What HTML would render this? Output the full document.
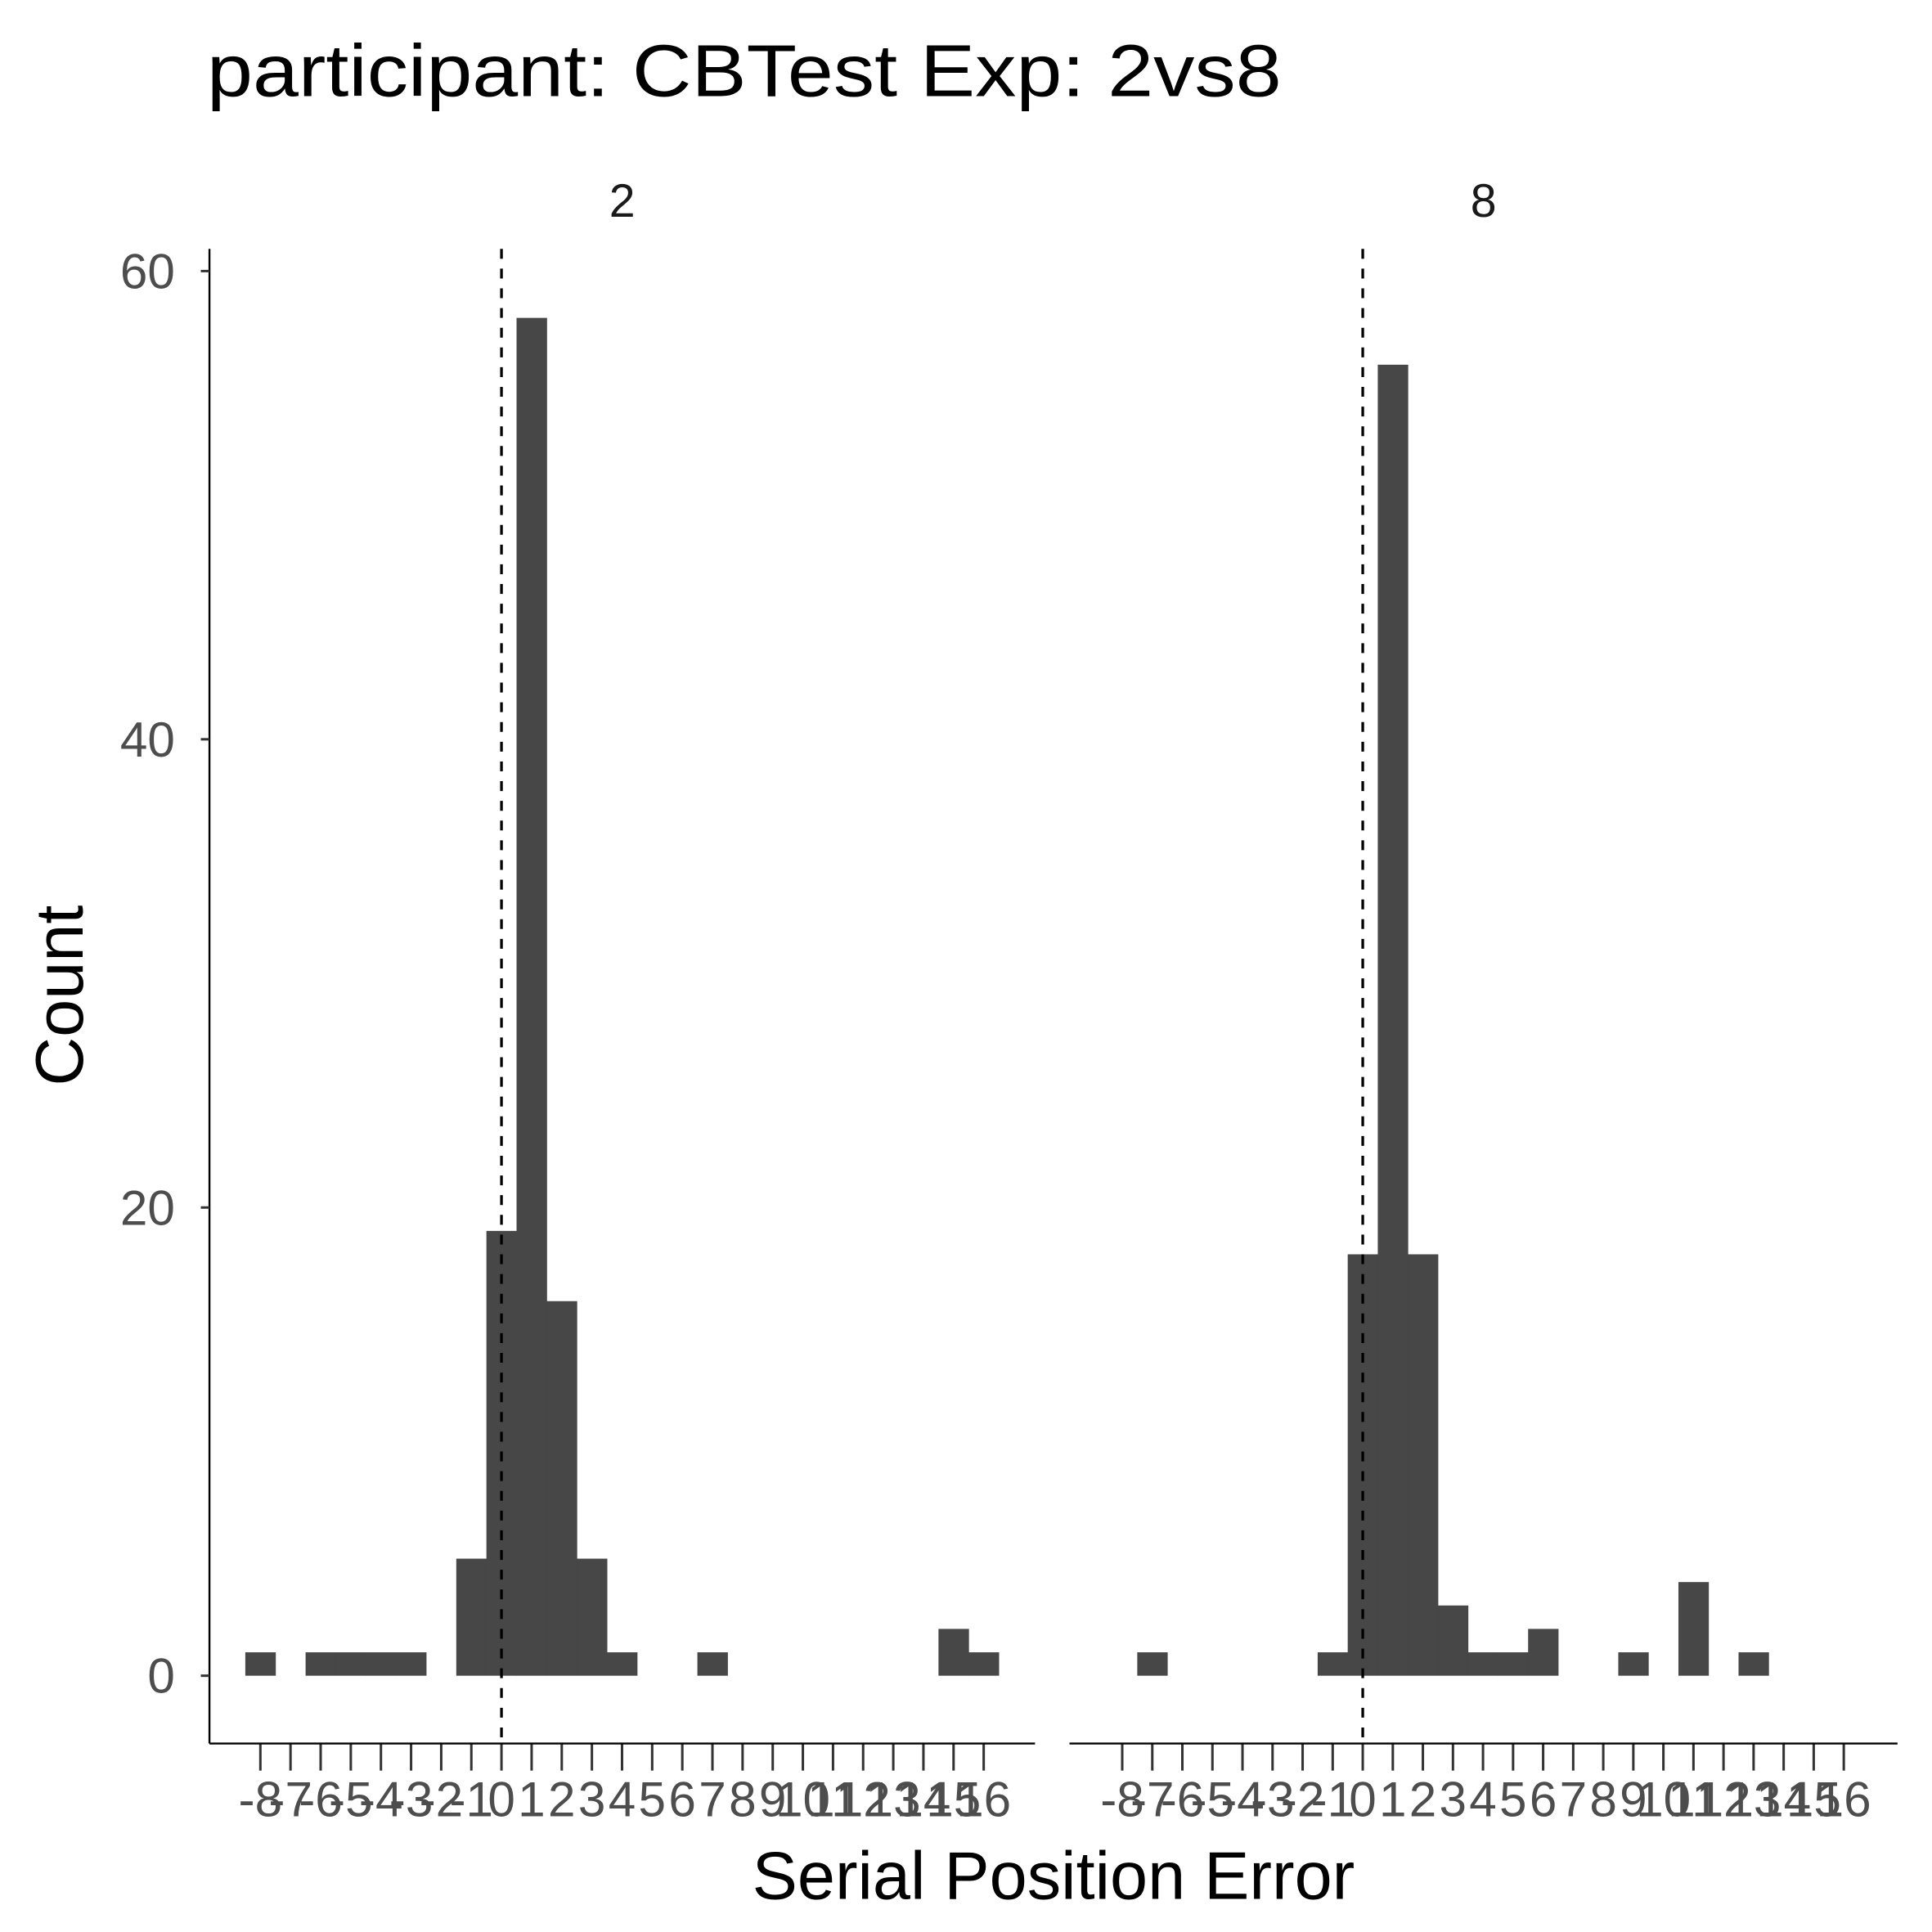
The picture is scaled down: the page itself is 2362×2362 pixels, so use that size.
<!DOCTYPE html>
<html><head><meta charset="utf-8"><style>html,body{margin:0;padding:0;background:#fff}svg{display:block}</style></head>
<body>
<svg id="chart" width="2362" height="2362" viewBox="0 0 1568 1568" xmlns="http://www.w3.org/2000/svg" font-family="Liberation Sans, sans-serif">
<rect width="1568" height="1568" fill="#fff"/>
<text x="168" y="78" font-size="60" textLength="872" lengthAdjust="spacingAndGlyphs" fill="#000">participant: CBTest Exp: 2vs8</text>
<text transform="translate(67,808) rotate(-90)" text-anchor="middle" font-size="55" fill="#000">Count</text>
<text x="855" y="1541" text-anchor="middle" font-size="55" fill="#000">Serial Position Error</text>
<g id="panels"></g>
</svg>
<script>
const bins = [-8,-7,-6,-5,-4,-3,-2,-1,0,1,2,3,4,5,6,7,8,9,10,11,12,13,14,15,16];
const tickLabels = ["-8","-7","-6","-5","-4","-3","-2","-1","0","1","2","3","4","5","6","7","8","9","10","11","12","13","14","15","16"];
const panelNames = ["2","8"];
const counts2 = [1,0,1,1,1,1,0,5,19,58,16,5,1,0,0,1,0,0,0,0,0,0,0,2,1];
const counts8 = [0,1,0,0,0,0,0,1,18,56,18,3,1,1,2,0,0,1,0,4,0,1,0,0,0];
const yTicks = [0,20,40,60];
const vlineX = 0;

const NS = "http://www.w3.org/2000/svg";
const g = document.getElementById('panels');
function mk(tag, attrs, parent){const e=document.createElementNS(NS,tag);for(const k in attrs)e.setAttribute(k,attrs[k]);(parent||g).appendChild(e);return e;}
const yScale = v => 1360 - v*19;
const panels = [{x0:407, step:24.46, axL:170, axR:840, counts:counts2, sx:505},
                {x0:1106, step:24.4, axL:868, axR:1540, counts:counts8, sx:1204}];
panels.forEach((p,pi)=>{
  const xs = v => p.x0 + v*p.step;
  const pg = mk('g',{});
  
  
  const st = mk('text',{x:p.sx,y:176,'text-anchor':'middle','font-size':38,fill:'#1a1a1a'},pg);
  
  
  st.textContent = panelNames[pi];
  bins.forEach((b,i)=>{
    const c = p.counts[i];
    if(c>0){
      const r = mk('rect',{x:xs(b-0.5),y:yScale(c),width:p.step+0.3,height:yScale(0)-yScale(c),fill:'#474747'},pg);
      
      
    }
    const t = mk('line',{x1:xs(b),x2:xs(b),y1:1415,y2:1437,stroke:'#333','stroke-width':2},pg);
    
    
    const tl = mk('text',{x:xs(b),y:1474,'text-anchor':'middle','font-size':40,fill:'#4d4d4d'},pg);
    
    
    tl.textContent = tickLabels[i];
  });
  const vl = mk('line',{x1:xs(vlineX),x2:xs(vlineX),y1:202,y2:1415,stroke:'#000','stroke-width':2.2,'stroke-dasharray':'8,8'},pg);
  
  
  const xa = mk('line',{x1:p.axL,x2:p.axR,y1:1415,y2:1415,stroke:'#000','stroke-width':1.6},pg);
  
  
});
const ya = mk('line',{x1:170,x2:170,y1:202,y2:1415,stroke:'#000','stroke-width':1.6});


yTicks.forEach(v=>{
  const t = mk('line',{x1:163,x2:170,y1:yScale(v),y2:yScale(v),stroke:'#333','stroke-width':2});
  
  
  const l = mk('text',{x:142,y:yScale(v)+14,'text-anchor':'end','font-size':40,fill:'#4d4d4d'});
  
  
  l.textContent = v;
});
</script>
</body></html>
